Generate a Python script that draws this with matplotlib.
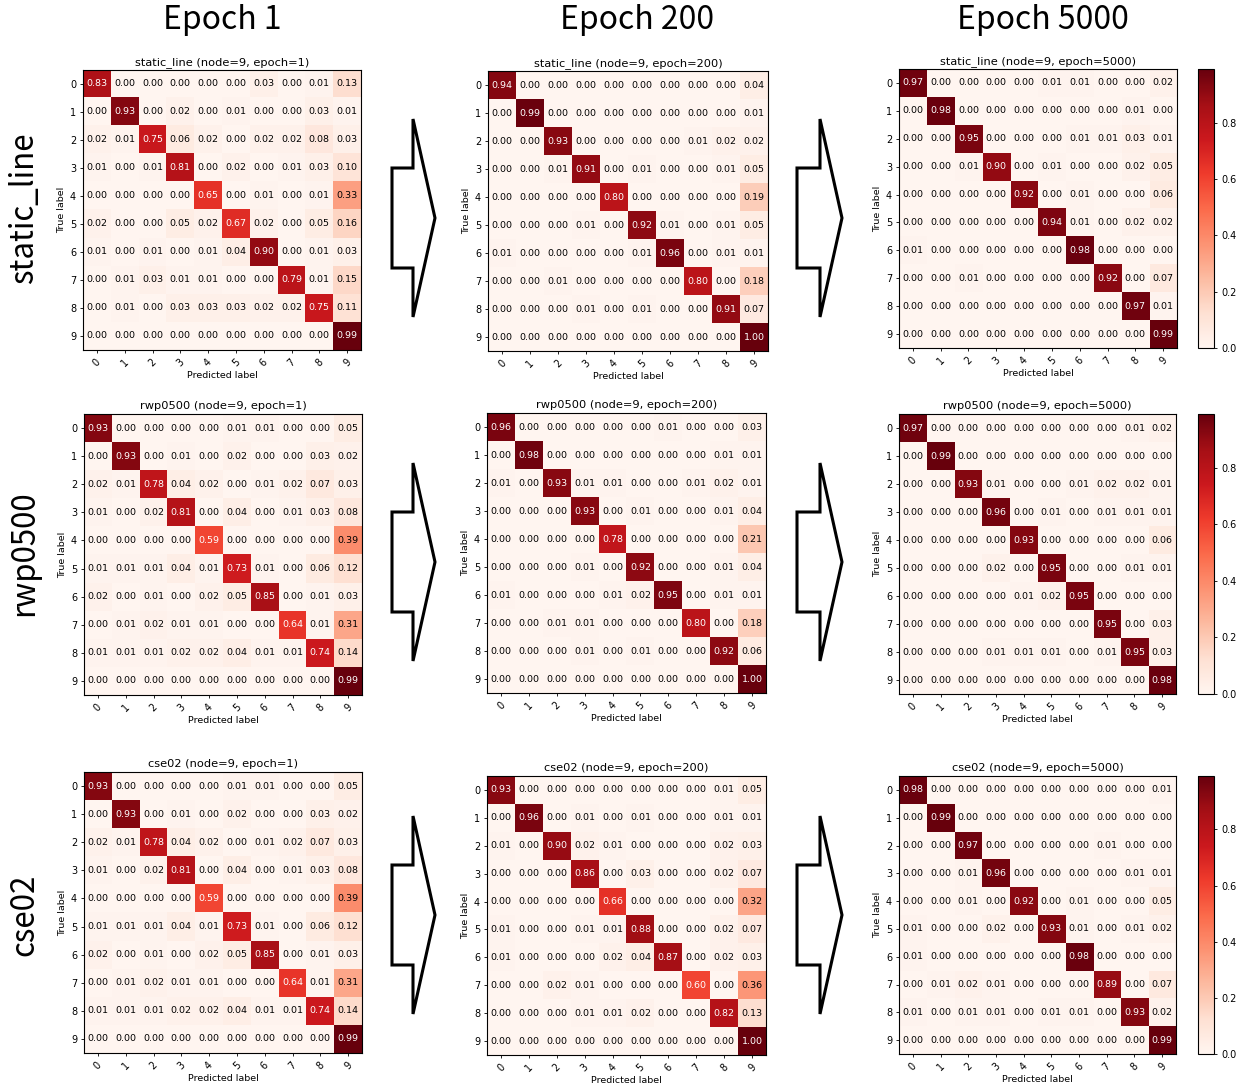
import numpy as np
import matplotlib
matplotlib.use('Agg')
import matplotlib.pyplot as plt
from matplotlib.patches import Polygon

# ---------------- data ----------------
classes = ['0', '1', '2', '3', '4', '5', '6', '7', '8', '9']
row_names = ['static_line', 'rwp0500', 'cse02']
epochs = [1, 200, 5000]
col_headers = ['Epoch 1', 'Epoch 200', 'Epoch 5000']

static_line_e1 = [
    [0.83, 0.00, 0.00, 0.00, 0.00, 0.00, 0.03, 0.00, 0.01, 0.13],
    [0.00, 0.93, 0.00, 0.02, 0.00, 0.01, 0.00, 0.00, 0.03, 0.01],
    [0.02, 0.01, 0.75, 0.06, 0.02, 0.00, 0.02, 0.02, 0.08, 0.03],
    [0.01, 0.00, 0.01, 0.81, 0.00, 0.02, 0.00, 0.01, 0.03, 0.10],
    [0.00, 0.00, 0.00, 0.00, 0.65, 0.00, 0.01, 0.00, 0.01, 0.33],
    [0.02, 0.00, 0.00, 0.05, 0.02, 0.67, 0.02, 0.00, 0.05, 0.16],
    [0.01, 0.00, 0.01, 0.00, 0.01, 0.04, 0.90, 0.00, 0.01, 0.03],
    [0.00, 0.01, 0.03, 0.01, 0.01, 0.00, 0.00, 0.79, 0.01, 0.15],
    [0.00, 0.01, 0.00, 0.03, 0.03, 0.03, 0.02, 0.02, 0.75, 0.11],
    [0.00, 0.00, 0.00, 0.00, 0.00, 0.00, 0.00, 0.00, 0.00, 0.99],
]
static_line_e200 = [
    [0.94, 0.00, 0.00, 0.00, 0.00, 0.00, 0.00, 0.00, 0.00, 0.04],
    [0.00, 0.99, 0.00, 0.00, 0.00, 0.00, 0.00, 0.00, 0.00, 0.01],
    [0.00, 0.00, 0.93, 0.00, 0.00, 0.00, 0.00, 0.01, 0.02, 0.02],
    [0.00, 0.00, 0.01, 0.91, 0.00, 0.01, 0.00, 0.00, 0.01, 0.05],
    [0.00, 0.00, 0.00, 0.00, 0.80, 0.00, 0.00, 0.00, 0.00, 0.19],
    [0.00, 0.00, 0.00, 0.01, 0.00, 0.92, 0.01, 0.00, 0.01, 0.05],
    [0.01, 0.00, 0.00, 0.00, 0.00, 0.01, 0.96, 0.00, 0.01, 0.01],
    [0.00, 0.00, 0.01, 0.00, 0.00, 0.00, 0.00, 0.80, 0.00, 0.18],
    [0.00, 0.00, 0.00, 0.01, 0.00, 0.01, 0.00, 0.00, 0.91, 0.07],
    [0.00, 0.00, 0.00, 0.00, 0.00, 0.00, 0.00, 0.00, 0.00, 1.00],
]
static_line_e5000 = [
    [0.97, 0.00, 0.00, 0.00, 0.00, 0.01, 0.01, 0.00, 0.00, 0.02],
    [0.00, 0.98, 0.00, 0.00, 0.00, 0.00, 0.00, 0.00, 0.01, 0.00],
    [0.00, 0.00, 0.95, 0.00, 0.00, 0.00, 0.01, 0.01, 0.03, 0.01],
    [0.00, 0.00, 0.01, 0.90, 0.00, 0.01, 0.00, 0.00, 0.02, 0.05],
    [0.00, 0.00, 0.00, 0.00, 0.92, 0.00, 0.01, 0.00, 0.00, 0.06],
    [0.00, 0.00, 0.00, 0.00, 0.00, 0.94, 0.01, 0.00, 0.02, 0.02],
    [0.01, 0.00, 0.00, 0.00, 0.00, 0.00, 0.98, 0.00, 0.00, 0.00],
    [0.00, 0.00, 0.01, 0.00, 0.00, 0.00, 0.00, 0.92, 0.00, 0.07],
    [0.00, 0.00, 0.00, 0.00, 0.00, 0.00, 0.00, 0.00, 0.97, 0.01],
    [0.00, 0.00, 0.00, 0.00, 0.00, 0.00, 0.00, 0.00, 0.00, 0.99],
]
rwp0500_e1 = [
    [0.93, 0.00, 0.00, 0.00, 0.00, 0.01, 0.01, 0.00, 0.00, 0.05],
    [0.00, 0.93, 0.00, 0.01, 0.00, 0.02, 0.00, 0.00, 0.03, 0.02],
    [0.02, 0.01, 0.78, 0.04, 0.02, 0.00, 0.01, 0.02, 0.07, 0.03],
    [0.01, 0.00, 0.02, 0.81, 0.00, 0.04, 0.00, 0.01, 0.03, 0.08],
    [0.00, 0.00, 0.00, 0.00, 0.59, 0.00, 0.00, 0.00, 0.00, 0.39],
    [0.01, 0.01, 0.01, 0.04, 0.01, 0.73, 0.01, 0.00, 0.06, 0.12],
    [0.02, 0.00, 0.01, 0.00, 0.02, 0.05, 0.85, 0.00, 0.01, 0.03],
    [0.00, 0.01, 0.02, 0.01, 0.01, 0.00, 0.00, 0.64, 0.01, 0.31],
    [0.01, 0.01, 0.01, 0.02, 0.02, 0.04, 0.01, 0.01, 0.74, 0.14],
    [0.00, 0.00, 0.00, 0.00, 0.00, 0.00, 0.00, 0.00, 0.00, 0.99],
]
rwp0500_e200 = [
    [0.96, 0.00, 0.00, 0.00, 0.00, 0.00, 0.01, 0.00, 0.00, 0.03],
    [0.00, 0.98, 0.00, 0.00, 0.00, 0.00, 0.00, 0.00, 0.01, 0.01],
    [0.01, 0.00, 0.93, 0.01, 0.01, 0.00, 0.00, 0.01, 0.02, 0.01],
    [0.00, 0.00, 0.00, 0.93, 0.00, 0.01, 0.00, 0.00, 0.01, 0.04],
    [0.00, 0.00, 0.00, 0.00, 0.78, 0.00, 0.00, 0.00, 0.00, 0.21],
    [0.00, 0.00, 0.00, 0.01, 0.00, 0.92, 0.00, 0.00, 0.01, 0.04],
    [0.01, 0.00, 0.00, 0.00, 0.01, 0.02, 0.95, 0.00, 0.01, 0.01],
    [0.00, 0.00, 0.01, 0.01, 0.00, 0.00, 0.00, 0.80, 0.00, 0.18],
    [0.00, 0.00, 0.00, 0.01, 0.00, 0.01, 0.00, 0.00, 0.92, 0.06],
    [0.00, 0.00, 0.00, 0.00, 0.00, 0.00, 0.00, 0.00, 0.00, 1.00],
]
rwp0500_e5000 = [
    [0.97, 0.00, 0.00, 0.00, 0.00, 0.00, 0.00, 0.00, 0.01, 0.02],
    [0.00, 0.99, 0.00, 0.00, 0.00, 0.00, 0.00, 0.00, 0.00, 0.00],
    [0.00, 0.00, 0.93, 0.01, 0.00, 0.00, 0.01, 0.02, 0.02, 0.01],
    [0.00, 0.00, 0.00, 0.96, 0.00, 0.01, 0.00, 0.01, 0.01, 0.01],
    [0.00, 0.00, 0.00, 0.00, 0.93, 0.00, 0.00, 0.00, 0.00, 0.06],
    [0.00, 0.00, 0.00, 0.02, 0.00, 0.95, 0.00, 0.00, 0.01, 0.01],
    [0.00, 0.00, 0.00, 0.00, 0.01, 0.02, 0.95, 0.00, 0.00, 0.00],
    [0.00, 0.00, 0.00, 0.00, 0.00, 0.00, 0.00, 0.95, 0.00, 0.03],
    [0.00, 0.00, 0.00, 0.01, 0.01, 0.01, 0.00, 0.01, 0.95, 0.03],
    [0.00, 0.00, 0.00, 0.00, 0.00, 0.00, 0.00, 0.00, 0.00, 0.98],
]
cse02_e1 = [
    [0.93, 0.00, 0.00, 0.00, 0.00, 0.01, 0.01, 0.00, 0.00, 0.05],
    [0.00, 0.93, 0.00, 0.01, 0.00, 0.02, 0.00, 0.00, 0.03, 0.02],
    [0.02, 0.01, 0.78, 0.04, 0.02, 0.00, 0.01, 0.02, 0.07, 0.03],
    [0.01, 0.00, 0.02, 0.81, 0.00, 0.04, 0.00, 0.01, 0.03, 0.08],
    [0.00, 0.00, 0.00, 0.00, 0.59, 0.00, 0.00, 0.00, 0.00, 0.39],
    [0.01, 0.01, 0.01, 0.04, 0.01, 0.73, 0.01, 0.00, 0.06, 0.12],
    [0.02, 0.00, 0.01, 0.00, 0.02, 0.05, 0.85, 0.00, 0.01, 0.03],
    [0.00, 0.01, 0.02, 0.01, 0.01, 0.00, 0.00, 0.64, 0.01, 0.31],
    [0.01, 0.01, 0.01, 0.02, 0.02, 0.04, 0.01, 0.01, 0.74, 0.14],
    [0.00, 0.00, 0.00, 0.00, 0.00, 0.00, 0.00, 0.00, 0.00, 0.99],
]
cse02_e200 = [
    [0.93, 0.00, 0.00, 0.00, 0.00, 0.00, 0.00, 0.00, 0.01, 0.05],
    [0.00, 0.96, 0.00, 0.01, 0.00, 0.01, 0.00, 0.00, 0.01, 0.01],
    [0.01, 0.00, 0.90, 0.02, 0.01, 0.00, 0.00, 0.00, 0.02, 0.03],
    [0.00, 0.00, 0.00, 0.86, 0.00, 0.03, 0.00, 0.00, 0.02, 0.07],
    [0.00, 0.00, 0.00, 0.00, 0.66, 0.00, 0.00, 0.00, 0.00, 0.32],
    [0.01, 0.00, 0.00, 0.01, 0.01, 0.88, 0.00, 0.00, 0.02, 0.07],
    [0.01, 0.00, 0.00, 0.00, 0.02, 0.04, 0.87, 0.00, 0.02, 0.03],
    [0.00, 0.00, 0.02, 0.01, 0.00, 0.00, 0.00, 0.60, 0.00, 0.36],
    [0.00, 0.00, 0.00, 0.01, 0.01, 0.02, 0.00, 0.00, 0.82, 0.13],
    [0.00, 0.00, 0.00, 0.00, 0.00, 0.00, 0.00, 0.00, 0.00, 1.00],
]
cse02_e5000 = [
    [0.98, 0.00, 0.00, 0.00, 0.00, 0.00, 0.00, 0.00, 0.00, 0.01],
    [0.00, 0.99, 0.00, 0.00, 0.00, 0.00, 0.00, 0.00, 0.00, 0.00],
    [0.00, 0.00, 0.97, 0.00, 0.00, 0.00, 0.00, 0.01, 0.00, 0.00],
    [0.00, 0.00, 0.01, 0.96, 0.00, 0.00, 0.00, 0.00, 0.01, 0.01],
    [0.00, 0.00, 0.01, 0.00, 0.92, 0.00, 0.01, 0.00, 0.00, 0.05],
    [0.01, 0.00, 0.00, 0.02, 0.00, 0.93, 0.01, 0.00, 0.01, 0.02],
    [0.01, 0.00, 0.00, 0.00, 0.00, 0.00, 0.98, 0.00, 0.00, 0.00],
    [0.00, 0.01, 0.02, 0.01, 0.00, 0.00, 0.00, 0.89, 0.00, 0.07],
    [0.01, 0.00, 0.01, 0.01, 0.00, 0.01, 0.01, 0.00, 0.93, 0.02],
    [0.00, 0.00, 0.00, 0.00, 0.00, 0.00, 0.00, 0.00, 0.00, 0.99],
]

matrices = [
    [static_line_e1, static_line_e200, static_line_e5000],
    [rwp0500_e1, rwp0500_e200, rwp0500_e5000],
    [cse02_e1, cse02_e200, cse02_e5000],
]

# ---------------- layout (pixels) ----------------
W, H, DPI = 1247, 1089, 100
panel_px = [
    [(83, 70, 361, 350), (488, 71, 768, 351), (899, 69, 1177, 348)],
    [(84, 414, 362, 695), (487, 413, 766, 693), (899, 414, 1176, 694)],
    [(84, 772, 362, 1053), (487, 776, 766, 1055), (899, 776, 1176, 1054)],
]
cbar_x = (1198, 1214)
header_x = [222, 637, 1043]
row_label_y = [208, 553, 915]
arrow_x = [(392, 413, 435), (797, 820, 842)]
arrow_cy = [218, 562, 915]


def rect(l, t, r, b):
    return [l / W, 1 - b / H, (r - l) / W, (b - t) / H]


fig = plt.figure(figsize=(W / DPI, H / DPI), dpi=DPI)
fig.patch.set_facecolor('white')

big_font = ['Noto Sans CJK JP', 'DejaVu Sans']
fs = 6.8

for r in range(3):
    for c in range(3):
        cm = np.array(matrices[r][c])
        ax = fig.add_axes(rect(*panel_px[r][c]))
        im = ax.imshow(cm, interpolation='nearest', cmap='Reds', aspect='auto')
        ax.set_title(f"{row_names[r]} (node=9, epoch={epochs[c]})", fontsize=8.2, pad=3.5)
        ax.set_xticks(range(len(classes)))
        ax.set_xticklabels(classes, rotation=45)
        ax.set_yticks(range(len(classes)))
        ax.set_yticklabels(classes)
        ax.tick_params(labelsize=7.0, length=2.5, width=0.6, pad=2.5)
        ax.set_xlabel('Predicted label', fontsize=fs, labelpad=2)
        ax.set_ylabel('True label', fontsize=fs, labelpad=3)
        thresh = cm.max() / 2.0
        for i in range(cm.shape[0]):
            for j in range(cm.shape[1]):
                ax.text(j, i, f"{cm[i, j]:.2f}", ha='center', va='center',
                        fontsize=fs, color='white' if cm[i, j] > thresh else 'black')
        for s in ax.spines.values():
            s.set_linewidth(0.8)
        if c == 2:
            l, t, rr, b = panel_px[r][c]
            cax = fig.add_axes(rect(cbar_x[0], t, cbar_x[1], b))
            cb = fig.colorbar(im, cax=cax)
            cb.ax.tick_params(labelsize=7.0, length=2.5, width=0.6, pad=2.5)
            cb.outline.set_linewidth(0.8)

# column headers
for c in range(3):
    fig.text(header_x[c] / W, 1 - 29 / H, col_headers[c], ha='center', va='baseline',
             fontsize=23, family=big_font)

# row labels
for r in range(3):
    fig.text(24 / W, 1 - row_label_y[r] / H, row_names[r], ha='center', va='center',
             rotation=90, fontsize=22.5, family=big_font)

# hollow block arrows
for r in range(3):
    cy = arrow_cy[r]
    for (x0, xb, xt) in arrow_x:
        pts_px = [(x0, cy - 50), (xb, cy - 50), (xb, cy - 99), (xt, cy),
                  (xb, cy + 99), (xb, cy + 50), (x0, cy + 50)]
        pts = [(x / W, 1 - y / H) for x, y in pts_px]
        poly = Polygon(pts, closed=True, facecolor='white', edgecolor='black',
                       linewidth=2.2, joinstyle='miter', transform=fig.transFigure)
        fig.patches.append(poly)

fig.savefig('out.png', dpi=DPI)
